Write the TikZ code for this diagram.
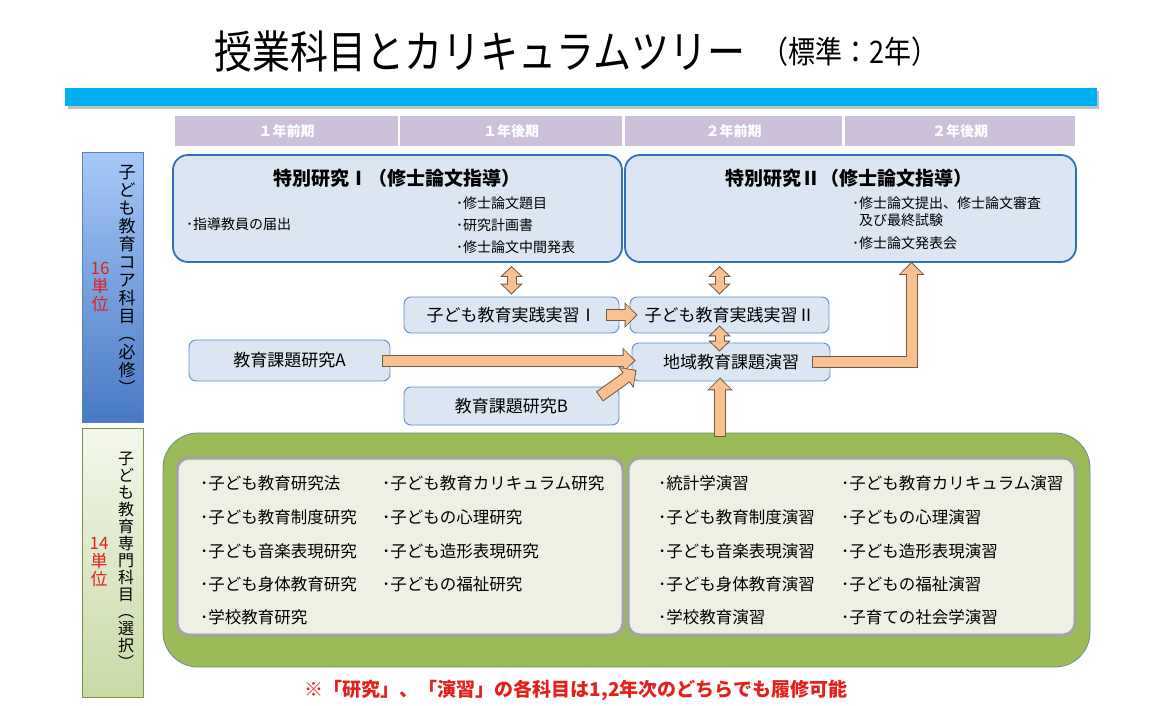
\documentclass[tikz,border=0pt]{standalone}
\usepackage{fontspec}
\setmainfont{Noto Sans CJK JP}
\usepackage{graphicx}
\usetikzlibrary{arrows.meta,calc}

\definecolor{barblue}{HTML}{00B0F0}
\definecolor{termfill}{HTML}{CCC0DA}
\definecolor{boxfill}{HTML}{DCE6F2}
\definecolor{boxline}{HTML}{2E6FC0}
\definecolor{subjline}{HTML}{5B8FD0}
\definecolor{arrowfill}{HTML}{FAC090}
\definecolor{arrowline}{HTML}{6E5A48}
\definecolor{grass}{HTML}{9BBB59}
\definecolor{grassline}{HTML}{6F8A8F}
\definecolor{panelfill}{HTML}{EDF0E3}
\definecolor{panelline}{HTML}{A3A3A3}
\definecolor{notered}{HTML}{E3201B}
\definecolor{coretop}{HTML}{A6C9F7}
\definecolor{corebot}{HTML}{4779C4}
\definecolor{coreline}{HTML}{5B80B6}

\newcommand{\pxfont}[1]{\fontsize{#1}{#1}\selectfont}

\tikzset{
  term/.style={fill=termfill, minimum width=#1, minimum height=30pt, inner sep=0pt, text=white, font=\pxfont{14}\bfseries},
  bigbox/.style={draw=boxline, fill=boxfill, line width=1.8pt, rounded corners=15pt, minimum height=107pt, minimum width=#1, inner sep=0pt},
  subj/.style={draw=subjline, fill=boxfill, line width=0.9pt, rounded corners=7pt, inner sep=0pt, font=\pxfont{17}},
  item/.style={anchor=west, inner sep=0pt, font=\pxfont{14}},
  course/.style={anchor=west, inner sep=0pt, font=\pxfont{16.5}},
  panel/.style={draw=panelline, fill=panelfill, line width=3pt, rounded corners=12pt, minimum height=177pt, minimum width=#1, inner sep=0pt},
  flow/.style={draw=arrowfill, line width=10pt, shorten <=1pt, shorten >=1.5pt, -{Triangle[length=10.5pt,width=21pt]},
    preaction={draw=arrowline, line width=12pt, shorten <=0pt, shorten >=0pt, -{Triangle[length=13pt,width=25pt]}}},
  flowboth/.style={draw=arrowfill, line width=8pt, shorten <=1.4pt, shorten >=1.4pt, {Triangle[length=8.5pt,width=17pt]}-{Triangle[length=8.5pt,width=17pt]},
    preaction={draw=arrowline, line width=10pt, shorten <=0pt, shorten >=0pt, {Triangle[length=11pt,width=22pt]}-{Triangle[length=11pt,width=22pt]}}}
}

\begin{document}
\begin{tikzpicture}[x=1pt,y=-1pt]
\useasboundingbox (0,0) rectangle (1164,706);

\node[font=\pxfont{38}] (title) at (480,51) {\scalebox{1}[1.18]{授業科目とカリキュラムツリー}};
\node[font=\pxfont{27}] (std) at (850,52) {\scalebox{1}[1.15]{（標準：2年）}};

\fill[black!25] (68,91) rectangle (1099,109);
\fill[barblue] (65,88) rectangle (1097,106);

\node[term=223pt] (h1) at (286.5,131) {１年前期};
\node[term=222pt] (h2) at (511,131) {１年後期};
\node[term=217pt] (h3) at (733.5,131) {２年前期};
\node[term=230pt] (h4) at (960,131) {２年後期};

\node[draw=coreline, top color=coretop, bottom color=corebot, minimum width=61pt, minimum height=270pt, inner sep=0pt] (core) at (112.5,287) {};
\node[font=\fontsize{17}{18}\selectfont, align=center, inner sep=0pt] (corelbl) at (127,280) {子\\ど\\も\\教\\育\\コ\\ア\\科\\目\\︵\\必\\修\\︶};
\node[text=notered, font=\fontsize{17}{18}\selectfont, align=center, inner sep=0pt] (coreunit) at (100,287) {16\\単\\位};

\node[draw=grass!80!black, top color=grass!12, bottom color=grass!55, minimum width=61pt, minimum height=269pt, inner sep=0pt] (spec) at (112.5,562.5) {};
\node[font=\fontsize{16}{17}\selectfont, align=center, inner sep=0pt] (speclbl) at (126,560) {子\\ど\\も\\教\\育\\専\\門\\科\\目\\︵\\選\\択\\︶};
\node[text=notered, font=\fontsize{17}{18}\selectfont, align=center, inner sep=0pt] (specunit) at (99,562) {14\\単\\位};

\node[bigbox=449pt] (box1) at (397.5,208.5) {};
\node[bigbox=451pt] (box2) at (850.5,208.5) {};
\node[font=\pxfont{19}\bfseries] (t1) at (397,178) {特別研究Ⅰ（修士論文指導）};
\node[font=\pxfont{19}\bfseries] (t2) at (849,178) {特別研究Ⅱ（修士論文指導）};
\node[item] at (186,224) {･指導教員の届出};
\node[item] at (456,203) {･修士論文題目};
\node[item] at (456,225) {･研究計画書};
\node[item] at (456,247) {･修士論文中間発表};
\node[item] at (852,203) {･修士論文提出、修士論文審査};
\node[item] at (852,220) {\phantom{･}及び最終試験};
\node[item] at (852,243) {･修士論文発表会};

\node[subj, minimum width=215pt, minimum height=36pt] (pr1) at (511.5,315) {子ども教育実践実習Ⅰ};
\node[subj, minimum width=199pt, minimum height=36pt] (pr2) at (729.5,315) {子ども教育実践実習Ⅱ};
\node[subj, minimum width=198pt, minimum height=38pt] (reg) at (731,362) {地域教育課題演習};
\node[subj, minimum width=201pt, minimum height=41pt] (resA) at (289.5,360.5) {教育課題研究A};
\node[subj, minimum width=215pt, minimum height=38pt] (resB) at (511.5,406) {教育課題研究B};

\node[draw=grassline, fill=grass, line width=0.8pt, rounded corners=35pt, minimum width=927pt, minimum height=234pt, inner sep=0pt] (elect) at (626.5,550) {};
\node[panel=446pt] (pnl1) at (400,546.5) {};
\node[panel=447pt] (pnl2) at (851.5,546.5) {};

\node[course] at (200,483) {･子ども教育研究法};
\node[course] at (200,517) {･子ども教育制度研究};
\node[course] at (200,551) {･子ども音楽表現研究};
\node[course] at (200,584) {･子ども身体教育研究};
\node[course] at (200,617) {･学校教育研究};
\node[course] at (382,483) {･子ども教育カリキュラム研究};
\node[course] at (382,517) {･子どもの心理研究};
\node[course] at (382,551) {･子ども造形表現研究};
\node[course] at (382,584) {･子どもの福祉研究};

\node[course] at (658,483) {･統計学演習};
\node[course] at (658,517) {･子ども教育制度演習};
\node[course] at (658,551) {･子ども音楽表現演習};
\node[course] at (658,584) {･子ども身体教育演習};
\node[course] at (658,617) {･学校教育演習};
\node[course] at (841,483) {･子ども教育カリキュラム演習};
\node[course] at (841,517) {･子どもの心理演習};
\node[course] at (841,551) {･子ども造形表現演習};
\node[course] at (841,584) {･子どもの福祉演習};
\node[course] at (841,617) {･子育ての社会学演習};

\draw[flowboth] ($(pr1.north |- box1.south)+(0,3)$) -- ($(pr1.north)+(0,-2)$);
\draw[flowboth] ($(pr2.north |- box2.south)+(-10,3)$) -- ($(pr2.north)+(-10,-2)$);
\draw[flow] ($(pr1.east)+(-13,0)$) -- ($(pr2.west)+(8,0)$);
\draw[flowboth] ($(pr2.south)+(-10,-8)$) -- ($(pr2.south |- reg.north)+(-10,9)$);
\draw[flow] ($(resA.east)+(-8,0)$) -- ($(resA.east -| reg.west)+(4,0)$);
\draw[flow] ($(resB.north east)+(-20,10)$) -- ($(reg.west)+(5,8)$);
\draw[flow] ($(reg.south |- elect.north)+(-11,4)$) -- ($(reg.south)+(-11,-4)$);
\draw[flow] ($(reg.east)+(-18,0)$) -| ($(box2.south)+(61,-1)$);

\node[text=notered, font=\pxfont{19}\bfseries] (note) at (576,690) {※「研究」、「演習」の各科目は1,2年次のどちらでも履修可能};
\end{tikzpicture}
\end{document}
